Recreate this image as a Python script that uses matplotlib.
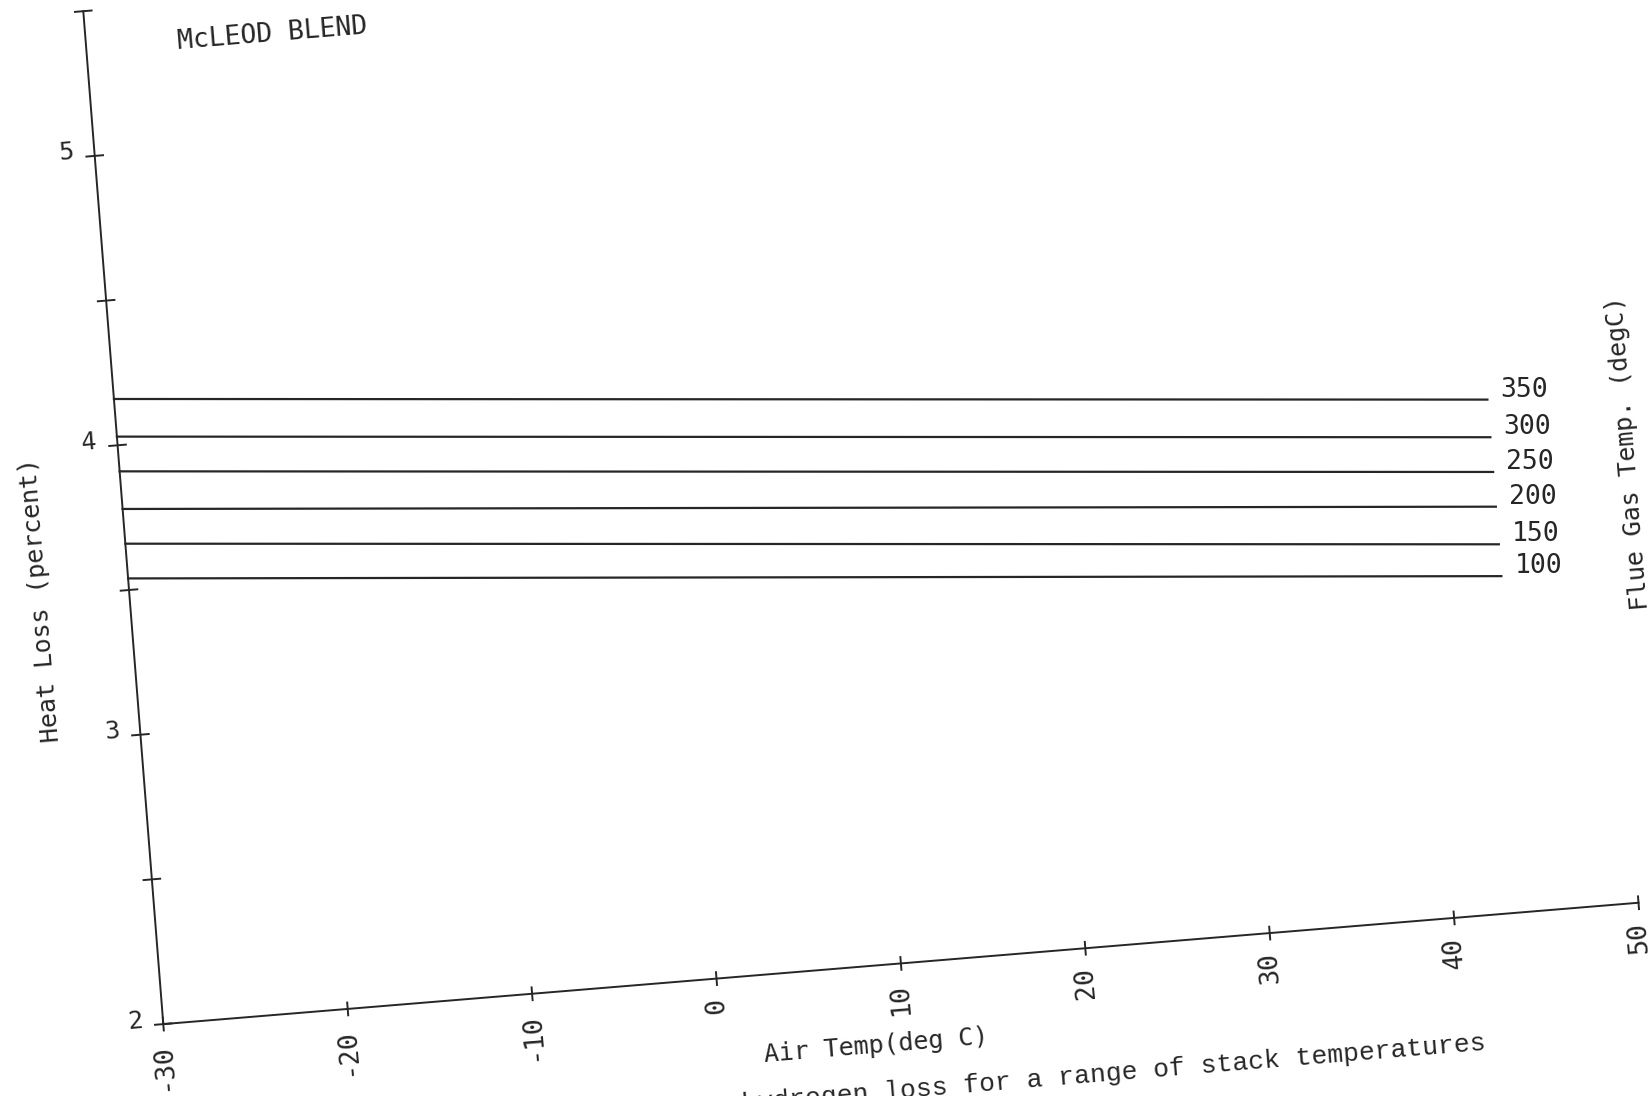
import matplotlib
matplotlib.use("Agg")
import matplotlib.pyplot as plt
import numpy as np
from matplotlib.transforms import Affine2D

# Values
air_temp_range = [-30, 44]
flue_gas_temps = [350, 300, 250, 200, 150, 100]
loss_at_cold_air = [4.16, 4.03, 3.91, 3.78, 3.66, 3.54]
loss_at_warm_air = [3.77, 3.64, 3.52, 3.40, 3.27, 3.16]

x_ticks = [-30, -20, -10, 0, 10, 20, 30, 40, 50]
y_ticks = [2, 2.5, 3, 3.5, 4, 4.5, 5, 5.5]
y_tick_labels = ["2", "", "3", "", "4", "", "5", ""]

W, H = 1652, 1096
ink = "#262626"
plt.rcParams["font.family"] = ["DejaVu Sans Mono", "DejaVu Sans"]

fig = plt.figure(figsize=(W / 100, H / 100), dpi=100)
ax = fig.add_axes([0, 0, 1, 1])
ax.set_xlim(0, W)
ax.set_ylim(H, 0)
ax.axis("off")

# The page was scanned a little rotated: map (air temp, loss) onto page pixels.
x0, y0 = x_ticks[0], y_ticks[0]
origin = (163.3, 1024.1)
per_deg = (18.44, -1.517)
per_pct = (-22.86, -289.4)
page = Affine2D.from_values(per_deg[0], per_deg[1], per_pct[0], per_pct[1],
                            origin[0] - per_deg[0] * x0 - per_pct[0] * y0,
                            origin[1] - per_deg[1] * x0 - per_pct[1] * y0)
tr = page + ax.transData
tilt = np.degrees(np.arctan2(-per_deg[1], per_deg[0]))

# axes and ticks
ax.plot([x0, x_ticks[-1]], [y0, y0], transform=tr, color=ink, lw=1.4)
ax.plot([x0, x0], [y0, y_ticks[-1]], transform=tr, color=ink, lw=1.4)
for x in x_ticks:
    ax.plot([x, x], [y0 - 0.022, y0 + 0.022], transform=tr, color=ink, lw=1.4)
    ax.annotate(str(x), xy=(x, y0), xycoords=tr, xytext=(0, -18),
                textcoords="offset pixels", rotation=90 + tilt,
                ha="center", va="top", fontsize=19, color=ink)
for y, lab in zip(y_ticks, y_tick_labels):
    ax.plot([x0 - 0.45, x0 + 0.45], [y, y], transform=tr, color=ink, lw=1.4)
    if lab:
        ax.annotate(lab, xy=(x0, y), xycoords=tr, xytext=(-20, 3),
                    textcoords="offset pixels", rotation=tilt,
                    ha="right", va="center", fontsize=18, color=ink)

# one line per flue gas temperature
for temp, a, b in zip(flue_gas_temps, loss_at_cold_air, loss_at_warm_air):
    ax.plot(air_temp_range, [a, b], transform=tr, color=ink, lw=1.6)
    ax.annotate(str(temp), xy=(air_temp_range[-1], b), xycoords=tr,
                xytext=(13, 10), textcoords="offset pixels",
                ha="left", va="center", fontsize=19, color=ink)

# text on the page
ax.text(178, 49, "McLEOD BLEND", rotation=tilt, rotation_mode="anchor",
        ha="left", va="baseline", fontsize=19, color=ink)
ax.text(40, 600, "Heat Loss (percent)", rotation=90 + tilt,
        ha="center", va="center", fontsize=18, color=ink)
ax.text(1628, 453, "Flue Gas Temp. (degC)", rotation=90 + tilt,
        ha="center", va="center", fontsize=18, color=ink)
ax.text(876, 1046, "Air Temp(deg C)", rotation=tilt,
        ha="center", va="center", fontsize=18, color=ink)
ax.text(1486, 1043, "hydrogen loss for a range of stack temperatures",
        rotation=tilt, rotation_mode="anchor", ha="right", va="center",
        fontsize=19, family="Liberation Mono", color=ink)

fig.savefig("out.png", dpi=100)
